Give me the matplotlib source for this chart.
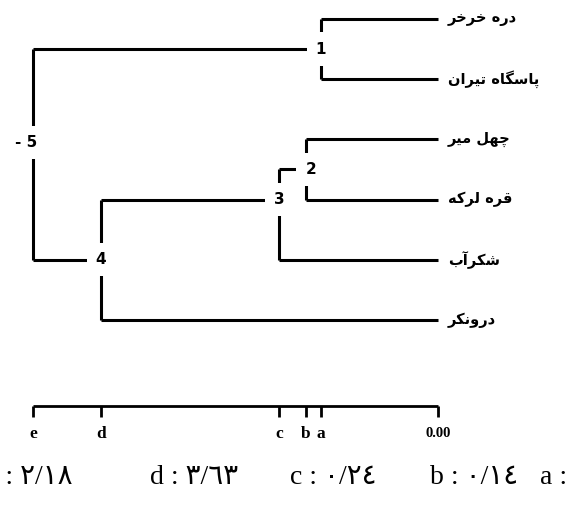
import matplotlib
matplotlib.use("Agg")
import matplotlib.pyplot as plt

# leaves, top to bottom
leaves = ['دره خرخر', 'پاسگاه تیران', 'چهل میر', 'قره لرکه', 'شکرآب', 'درونکر']

# merges: (node label, child A, child B); children are ('L', i) leaf or ('N', j) node
node_labels = ['1', '2', '3', '4', '5']
node_children = [(('L', 0), ('L', 1)),
                 (('L', 2), ('L', 3)),
                 (('N', 1), ('L', 4)),
                 (('N', 2), ('L', 5)),
                 (('N', 0), ('N', 3))]
node_height = [1.17, 1.32, 1.59, 3.37, 4.05]
node_y = [0.5, 2.5, 3.0, 4.0, 2.05]

# scale bar
scale_letters = ['a', 'b', 'c', 'd', 'e']
footnote_values = ['', '٠/١٤', '٠/٢٤', '٣/٦٣', '٢/١٨']

# --- minimal arabic shaping (matplotlib has no shaping / bidi) ---
FORMS = {
    'ا': ('\uFE8D', '\uFE8E', None, None),
    'آ': ('\uFE81', '\uFE82', None, None),
    'ب': ('\uFE8F', '\uFE90', '\uFE91', '\uFE92'),
    'ت': ('\uFE95', '\uFE96', '\uFE97', '\uFE98'),
    'خ': ('\uFEA5', '\uFEA6', '\uFEA7', '\uFEA8'),
    'د': ('\uFEA9', '\uFEAA', None, None),
    'ر': ('\uFEAD', '\uFEAE', None, None),
    'س': ('\uFEB1', '\uFEB2', '\uFEB3', '\uFEB4'),
    'ش': ('\uFEB5', '\uFEB6', '\uFEB7', '\uFEB8'),
    'ق': ('\uFED5', '\uFED6', '\uFED7', '\uFED8'),
    'ل': ('\uFEDD', '\uFEDE', '\uFEDF', '\uFEE0'),
    'م': ('\uFEE1', '\uFEE2', '\uFEE3', '\uFEE4'),
    'ن': ('\uFEE5', '\uFEE6', '\uFEE7', '\uFEE8'),
    'ه': ('\uFEE9', '\uFEEA', '\uFEEB', '\uFEEC'),
    'و': ('\uFEED', '\uFEEE', None, None),
    'پ': ('\uFB56', '\uFB57', '\uFB58', '\uFB59'),
    'چ': ('\uFB7A', '\uFB7B', '\uFB7C', '\uFB7D'),
    'ک': ('\uFB8E', '\uFB8F', '\uFB90', '\uFB91'),
    'گ': ('\uFB92', '\uFB93', '\uFB94', '\uFB95'),
    'ی': ('\uFBFC', '\uFBFD', '\uFBFE', '\uFBFF'),
}


def shape(s):
    out = []
    for i, ch in enumerate(s):
        if ch not in FORMS:
            out.append(ch)
            continue
        prev = s[i - 1] if i > 0 else ' '
        nxt = s[i + 1] if i < len(s) - 1 else ' '
        jp = prev in FORMS and FORMS[prev][2] is not None
        jn = FORMS[ch][2] is not None and nxt in FORMS
        iso, fin, ini, med = FORMS[ch]
        if jp and jn:
            out.append(med)
        elif jp:
            out.append(fin)
        elif jn:
            out.append(ini)
        else:
            out.append(iso)
    return ''.join(out[::-1])


fig = plt.figure(figsize=(5.78, 5.05), dpi=100)
ax = fig.add_axes([0, 0, 1, 1])
ax.set_xlim(4.38, -1.40)
ax.set_ylim((505 - 19) / 60.2, -19 / 60.2)
ax.axis('off')

lw = 2.2


def child_pos(c):
    kind, i = c
    if kind == 'L':
        return 0.0, float(i)
    return node_height[i], node_y[i]


for k, (ca, cb) in enumerate(node_children):
    h = node_height[k]
    ya = child_pos(ca)[1]
    yb = child_pos(cb)[1]
    for c in (ca, cb):
        ch, cy = child_pos(c)
        ax.plot([h, ch], [cy, cy], color='black', lw=lw, solid_capstyle='butt', zorder=1)
    ax.plot([h, h], [ya, yb], color='black', lw=lw, solid_capstyle='butt', zorder=1)

# node numbers, white box breaks the lines
for k, lab in enumerate(node_labels):
    txt = lab
    dx = 0.0
    if lab == '5':
        txt = '- 5'
        dx = 0.07
    if lab == '2':
        dx = -0.05
    ax.text(node_height[k] + dx, node_y[k], txt, ha='center', va='center',
            fontsize=11, fontweight='bold', family=['Liberation Sans Narrow', 'DejaVu Sans'],
            bbox=dict(boxstyle='square,pad=0.6', fc='white', ec='none'), zorder=3)

# leaf names
for i, name in enumerate(leaves):
    ax.text(-0.10, i, shape(name), ha='left', va='center', fontsize=10.5,
            fontweight='bold', family='DejaVu Sans')

# scale bar
bar_y = (406 - 19) / 60.2
tick_len = 0.18
ax.plot([node_height[-1], 0], [bar_y, bar_y], color='black', lw=2, solid_capstyle='butt')
for h in node_height + [0.0]:
    ax.plot([h, h], [bar_y, bar_y + tick_len], color='black', lw=2, solid_capstyle='butt')
lab_y = (434 - 19) / 60.2
for h, letter in zip(node_height, scale_letters):
    ax.text(h, lab_y, letter, ha='center', va='center',
            fontsize=12.5, fontweight='bold', family='Liberation Serif')
ax.text(0.0, lab_y, '0.00', ha='center', va='center', fontsize=10.5,
        fontweight='bold', family='Liberation Serif')

# footnote line (e item is cut at the left edge, as in the source)
foot_y = (478 - 19) / 60.2
foot_px = {'e': (72, 'right'), 'd': (150, 'left'), 'c': (290, 'left'),
           'b': (430, 'left'), 'a': (540, 'left')}
for letter, val in zip(scale_letters, footnote_values):
    s = letter + ' : ' + val
    px, ha = foot_px[letter]
    ax.text((438 - px) / 100, foot_y, s, ha=ha, va='center',
            fontsize=20, family=['Liberation Serif', 'DejaVu Sans'])

fig.savefig('out.png', dpi=100, facecolor='white')
